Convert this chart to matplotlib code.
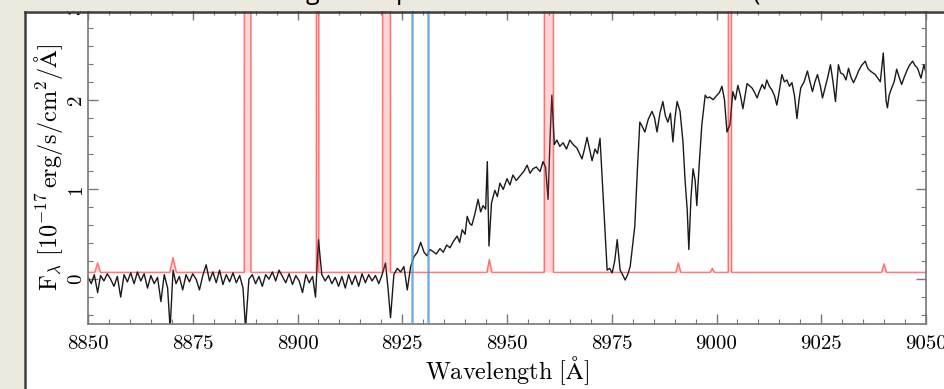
import matplotlib
matplotlib.use("Agg")
import matplotlib.pyplot as plt
from matplotlib.patches import Rectangle
from matplotlib.lines import Line2D
from matplotlib.ticker import MultipleLocator
import numpy as np

# ---------------- data ----------------
wave = [8850.0, 8850.8, 8851.5, 8852.3, 8853.0, 8853.8, 8854.6, 8855.4, 8856.2, 8857.0,
        8857.8, 8858.6, 8859.4, 8860.2, 8861.0, 8861.8, 8862.6, 8863.4, 8864.2, 8865.0,
        8865.8, 8866.6, 8867.4, 8868.2, 8869.0, 8869.6, 8870.3, 8871.0, 8871.8, 8872.6,
        8873.4, 8874.2, 8875.0, 8875.8, 8876.6, 8877.4, 8878.2, 8879.0, 8879.8, 8880.6,
        8881.4, 8882.2, 8883.0, 8883.8, 8884.6, 8885.4, 8886.2, 8887.0, 8887.6, 8888.4,
        8889.2, 8890.0, 8890.8, 8891.6, 8892.4, 8893.2, 8894.0, 8894.8, 8895.6, 8896.4,
        8897.2, 8898.0, 8898.8, 8899.6, 8900.4, 8901.2, 8902.0, 8902.8, 8903.6, 8904.3,
        8905.0, 8905.8, 8906.6, 8907.4, 8908.2, 8909.0, 8909.8, 8910.6, 8911.4, 8912.2,
        8913.0, 8913.8, 8914.6, 8915.4, 8916.2, 8917.0, 8917.8, 8918.6, 8919.4, 8920.2,
        8921.0, 8921.6, 8922.2, 8923.0, 8923.8, 8924.6, 8925.4, 8926.2, 8927.0, 8927.8,
        8928.6, 8929.4, 8930.2, 8930.9, 8931.6, 8932.3, 8933.1, 8934.0, 8934.8, 8935.6,
        8936.4, 8937.2, 8938.1, 8938.7, 8939.3, 8940.0, 8940.5, 8941.1, 8941.6, 8942.3,
        8943.1, 8943.7, 8944.3, 8944.9, 8945.3, 8945.7, 8946.3, 8947.1, 8947.7, 8948.3,
        8949.1, 8950.0, 8950.7, 8951.4, 8952.2, 8953.1, 8954.0, 8954.8, 8955.5, 8956.2,
        8957.0, 8957.9, 8958.6, 8959.2, 8959.8, 8960.3, 8960.7, 8961.3, 8961.9, 8962.6,
        8963.4, 8964.2, 8965.0, 8965.8, 8966.7, 8967.9, 8968.5, 8969.1, 8969.7, 8970.3,
        8971.0, 8971.6, 8972.2, 8972.9, 8973.9, 8974.5, 8975.1, 8975.7, 8976.3, 8977.0,
        8977.6, 8978.2, 8978.8, 8979.4, 8980.5, 8981.1, 8981.7, 8982.3, 8982.9, 8983.7,
        8984.6, 8985.2, 8985.8, 8986.5, 8987.2, 8987.8, 8988.4, 8989.0, 8989.6, 8990.1,
        8990.6, 8991.3, 8992.0, 8992.5, 8993.0, 8993.4, 8993.9, 8994.4, 8994.9, 8995.3,
        8995.9, 8996.5, 8997.3, 8997.8, 8998.4, 8999.2, 9000.1, 9000.7, 9001.3, 9001.9,
        9002.5, 9003.2, 9003.9, 9004.5, 9005.1, 9005.7, 9006.3, 9007.3, 9008.5, 9009.1,
        9009.7, 9010.3, 9010.9, 9011.5, 9012.0, 9012.6, 9013.2, 9013.8, 9014.4, 9015.0,
        9015.6, 9016.2, 9016.8, 9017.4, 9018.0, 9018.6, 9019.2, 9019.7, 9020.1, 9020.9,
        9021.7, 9022.3, 9022.9, 9023.5, 9024.1, 9024.8, 9025.3, 9026.0, 9026.5, 9027.2,
        9027.8, 9028.4, 9029.1, 9029.6, 9030.3, 9030.9, 9031.5, 9032.1, 9032.7, 9033.3,
        9033.9, 9034.6, 9035.5, 9036.1, 9036.7, 9037.3, 9037.9, 9038.5, 9039.1, 9039.8,
        9040.5, 9040.8, 9041.2, 9041.8, 9042.4, 9043.0, 9043.6, 9044.2, 9044.8, 9045.4,
        9046.0, 9046.8, 9047.4, 9048.0, 9048.8, 9049.5, 9050.0]

flux = [0.02, -0.05, 0.05, -0.15, 0.04, -0.02, 0.06, 0.00, -0.08, 0.03,
        -0.20, 0.05, -0.03, 0.07, -0.05, 0.08, -0.02, 0.06, -0.10, 0.04,
        -0.05, 0.02, -0.25, 0.05, -0.10, -0.55, 0.10, -0.05, 0.03, -0.12,
        0.05, -0.03, 0.06, 0.00, -0.12, 0.04, 0.16, -0.02, 0.08, -0.04,
        0.10, -0.06, 0.05, -0.03, 0.07, -0.04, 0.04, -0.10, -0.55, 0.00,
        0.05, -0.05, 0.03, -0.08, 0.05, 0.00, 0.08, -0.02, 0.10, 0.03,
        -0.04, 0.06, -0.06, 0.04, -0.02, -0.15, 0.05, -0.04, 0.03, -0.20,
        0.44, 0.05, -0.02, 0.04, -0.05, 0.02, -0.08, 0.03, -0.10, 0.05,
        -0.06, 0.04, -0.08, 0.06, -0.04, 0.05, -0.02, 0.04, -0.05, 0.05,
        0.18, -0.10, -0.43, 0.05, 0.12, 0.08, 0.14, -0.12, 0.14, 0.25,
        0.30, 0.41, 0.30, 0.26, 0.33, 0.31, 0.28, 0.34, 0.30, 0.38,
        0.35, 0.42, 0.48, 0.41, 0.55, 0.50, 0.70, 0.62, 0.60, 0.72,
        0.89, 0.75, 0.82, 0.78, 1.31, 0.37, 0.85, 0.99, 0.92, 1.07,
        1.00, 1.12, 1.05, 1.16, 1.10, 1.15, 1.20, 1.27, 1.18, 1.23,
        1.25, 1.20, 1.31, 1.25, 0.89, 1.60, 2.05, 1.50, 1.55, 1.48,
        1.52, 1.45, 1.55, 1.50, 1.46, 1.34, 1.45, 1.58, 1.45, 1.32,
        1.45, 1.40, 1.57, 0.97, 0.10, 0.12, 0.07, 0.20, 0.44, 0.10,
        0.05, -0.01, 0.05, 0.14, 0.59, 1.20, 1.75, 1.70, 1.64, 1.78,
        1.87, 1.80, 1.64, 1.85, 1.98, 1.82, 1.75, 1.85, 1.53, 1.80,
        1.98, 1.87, 1.53, 1.10, 0.78, 0.33, 0.90, 1.23, 1.10, 0.82,
        1.30, 1.72, 2.05, 2.02, 2.03, 2.00, 2.05, 2.08, 2.15, 2.00,
        1.64, 1.72, 2.09, 2.00, 2.16, 2.05, 1.90, 2.18, 2.13, 2.08,
        2.02, 2.10, 2.17, 2.12, 2.22, 2.15, 2.11, 2.05, 1.94, 2.10,
        2.28, 2.20, 2.22, 2.15, 2.19, 2.05, 1.79, 2.00, 2.13, 2.20,
        2.32, 2.20, 2.09, 2.20, 2.28, 2.15, 2.02, 2.15, 2.24, 2.39,
        2.20, 1.98, 2.39, 2.30, 2.28, 2.22, 2.35, 2.25, 2.19, 2.25,
        2.32, 2.38, 2.43, 2.35, 2.32, 2.30, 2.28, 2.24, 2.20, 2.52,
        1.98, 1.91, 2.05, 2.13, 2.20, 2.34, 2.25, 2.17, 2.25, 2.32,
        2.38, 2.43, 2.38, 2.35, 2.24, 2.39, 2.30]

# sky spectrum (red)
sky_wave = [8850.0, 8851.6, 8852.3, 8853.0, 8869.5, 8870.3, 8871.1,
            8887.3, 8887.4, 8888.8, 8888.9, 8904.5, 8904.6, 8905.0, 8905.1,
            8920.3, 8920.4, 8922.1, 8922.2, 8945.2, 8945.8, 8946.4,
            8958.9, 8959.0, 8961.0, 8961.1, 8990.3, 8990.9, 8991.5,
            8998.5, 8999.0, 8999.5, 9002.8, 9003.0, 9003.4, 9003.6,
            9039.4, 9040.0, 9040.6, 9050.0]
sky_flux = [0.075, 0.075, 0.18, 0.075, 0.075, 0.24, 0.075,
            0.075, 20.0, 20.0, 0.075, 0.075, 20.0, 20.0, 0.075,
            0.075, 20.0, 20.0, 0.075, 0.075, 0.22, 0.075,
            0.075, 20.0, 20.0, 0.075, 0.075, 0.18, 0.075,
            0.075, 0.12, 0.075, 0.075, 20.0, 20.0, 0.075,
            0.075, 0.17, 0.075, 0.075]
sky_base = 0.075

# blue markers
blue_lines = [8927.3, 8931.1]

x_ticks = [8850, 8875, 8900, 8925, 8950, 8975, 9000, 9025, 9050]
y_ticks = [0, 1, 2, 3]

# ---------------- figure ----------------
plt.rcParams['mathtext.fontset'] = 'cm'
plt.rcParams['font.family'] = ['cmr10', 'DejaVu Serif']
plt.rcParams['axes.unicode_minus'] = False

W, H = 944, 389
fig = plt.figure(figsize=(W / 100, H / 100), dpi=100)
fig.patch.set_facecolor('white')

ax = fig.add_axes([88 / W, (H - 324) / H, (926 - 88) / W, (324 - 10) / H])

ax.fill_between(sky_wave, sky_base, sky_flux, color='#ff4040', alpha=0.22, lw=0, zorder=3)
ax.plot(sky_wave, sky_flux, color='#ff6b6b', lw=1.1, alpha=0.9, zorder=1)
ax.plot(wave, flux, color='#1a1a1a', lw=1.0, zorder=2)
for b in blue_lines:
    ax.axvline(b, color='#5b9bd5', lw=1.8, alpha=0.8, zorder=4)

ax.set_xlim(8850, 9050)
ax.set_ylim(-0.5, 3.0)
ax.set_xticks(x_ticks)
ax.set_yticks(y_ticks)
ax.xaxis.set_minor_locator(MultipleLocator(5))
ax.yaxis.set_minor_locator(MultipleLocator(0.2))
ax.tick_params(which='both', direction='in', top=True, right=True, color='#777777')
ax.tick_params(which='major', length=7, width=1.0, labelsize=15)
ax.tick_params(axis='x', which='major', pad=8)
ax.tick_params(axis='y', which='major', pad=2)
ax.tick_params(which='minor', length=3.5, width=0.8)
for lab in ax.get_yticklabels():
    lab.set_rotation(90)
    lab.set_va('center')
for s in ax.spines.values():
    s.set_color('#777777')
    s.set_linewidth(1.2)

ax.set_xlabel(r'$\mathrm{Wavelength\ [\AA]}$', fontsize=17.5, labelpad=1)
ax.set_ylabel(r'$\mathrm{F_\lambda\ [10^{-17}\,erg/s/cm^2/\AA]}$', fontsize=17.5, labelpad=2)

# slide background / frame
beige = '#ece9df'
fig.add_artist(Rectangle((0, 0), 24 / W, 1, transform=fig.transFigure,
                         facecolor=beige, edgecolor='none', zorder=10))
fig.add_artist(Rectangle((0, 1 - 11 / H), 1, 11 / H, transform=fig.transFigure,
                         facecolor=beige, edgecolor='none', zorder=10))
fig.add_artist(Line2D([25 / W, 25 / W], [0, 1 - 12 / H], transform=fig.transFigure,
                      color='#3c3c3c', lw=1.8, zorder=11))
fig.add_artist(Line2D([25 / W, 1], [1 - 12 / H, 1 - 12 / H], transform=fig.transFigure,
                      color='#3c3c3c', lw=1.8, zorder=11))
# descenders of the cut-off slide title
for ch, xp in [('g', 312), ('p', 404), ('(', 757)]:
    fig.text(xp / W, 1 + 1 / H, ch, fontsize=18, family='Open Sans',
             ha='center', va='baseline', color='black', zorder=12)

fig.savefig('out.png', dpi=100)
